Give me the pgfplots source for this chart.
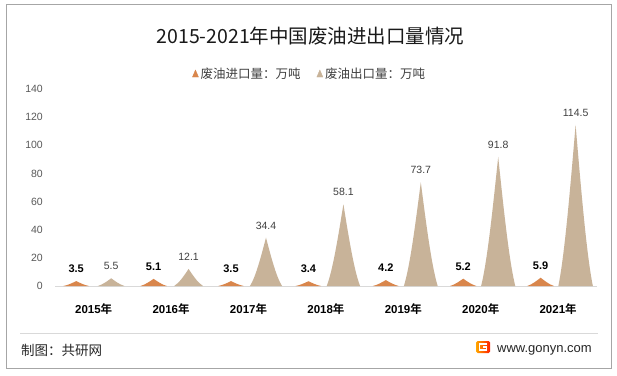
\documentclass[border=0pt]{standalone}
\usepackage{fontspec}
\setmainfont{Liberation Sans}
\newfontfamily\cjk{Noto Sans CJK SC}[BoldFont={Noto Sans CJK SC Bold}]
\usepackage{pgfplots}
\pgfplotsset{compat=1.18}
\definecolor{impcol}{RGB}{217,134,76}
\definecolor{expcol}{RGB}{200,179,153}
\definecolor{tickgray}{RGB}{89,89,89}
\definecolor{labgray}{RGB}{64,64,64}
\definecolor{linecol}{RGB}{217,217,217}
\definecolor{bordercol}{RGB}{166,166,166}
\def\rawy{0}
\pgfdeclareplotmark{spikemark}{%
  \pgfmathsetmacro\hA{\rawy*1.407}%
  \pgfmathsetmacro\hB{0.8*\hA}%
  \pgfmathsetmacro\hC{0.35*\hA}%
  \pgfmathsetmacro\wA{11.5+6.5*\rawy/(\rawy+15)}%
  \pgfmathsetmacro\wB{0.62*\wA}%
  \pgfmathsetmacro\wC{0.28*\wA}%
  \pgfpathmoveto{\pgfpoint{-\wA pt}{-\hA pt}}%
  \pgfpathcurveto{\pgfpoint{-\wB pt}{-\hB pt}}{\pgfpoint{-\wC pt}{-\hC pt}}{\pgfpoint{0pt}{0pt}}%
  \pgfpathcurveto{\pgfpoint{\wC pt}{-\hC pt}}{\pgfpoint{\wB pt}{-\hB pt}}{\pgfpoint{\wA pt}{-\hA pt}}%
  \pgfpathclose
  \pgfusepathqfill
}
\newcommand\nian{{\cjk 年}}
\pgfplotsset{
  spike/.style={
    only marks, mark=spikemark, color=#1, mark options={fill=#1, draw=none},
    visualization depends on={rawy \as \rawy},
    legend image code/.code={\fill[#1] (0pt,-3pt) -- (6pt,-3pt) -- (3pt,4pt) -- cycle;},
    nodes near coords={\pgfmathprintnumber[fixed,precision=1,fixed zerofill]{\pgfplotspointmeta}},
    point meta=y,
  }
}
\begin{document}
\begin{tikzpicture}
\useasboundingbox (0pt,0pt) rectangle (617pt,375pt);
\fill[white] (0pt,0pt) rectangle (617pt,375pt);
\draw[bordercol, line width=1pt] (6.5pt,6.5pt) rectangle (611pt,370pt);
\node[font=\cjk\fontsize{19.5}{22}\selectfont, text=black!90] at (310.5pt,339pt) {2015-2021年中国废油进出口量情况};
\begin{axis}[
  at={(55pt,89pt)}, anchor=south west,
  x=77.4pt, y=1.407pt,
  xmin=-0.5, xmax=6.5, ymin=0, ymax=140,
  clip=false,
  axis x line*=bottom, axis y line*=left,
  x axis line style={-, draw=linecol, line width=0.9pt},
  y axis line style={draw=none},
  major tick length=0pt,
  ytick={0,20,...,140},
  xtick={0,...,6},
  xticklabels={{2015\nian},{2016\nian},{2017\nian},{2018\nian},{2019\nian},{2020\nian},{2021\nian}},
  /pgf/number format/assume math mode=true,
  yticklabel style={font=\fontsize{10.5}{12}\selectfont, text=tickgray, anchor=east, inner sep=0pt, xshift=-12pt},
  xticklabel style={font=\bfseries\fontsize{11.5}{13}\selectfont, text=black, anchor=base, inner sep=0pt, yshift=-27pt},
  legend style={at={(0.47,1.076)}, anchor=center, draw=none, fill=none,
    font=\cjk\fontsize{12.5}{14}\selectfont, text=labgray, legend columns=2,
    /tikz/every even column/.append style={column sep=14pt}},
]
\addplot[spike=impcol,
  every node near coord/.append style={text=black, font=\bfseries\fontsize{11}{12}\selectfont, anchor=center, yshift=12pt}]
  coordinates {(-0.226,3.5) (0.774,5.1) (1.774,3.5) (2.774,3.4) (3.774,4.2) (4.774,5.2) (5.774,5.9)};
\addlegendentry{废油进口量：万吨}
\addplot[spike=expcol,
  every node near coord/.append style={text=labgray, font=\fontsize{10.5}{12}\selectfont, anchor=center, yshift=12pt}]
  coordinates {(0.226,5.5) (1.226,12.1) (2.226,34.4) (3.226,58.1) (4.226,73.7) (5.226,91.8) (6.226,114.5)};
\addlegendentry{废油出口量：万吨}
\end{axis}
\draw[linecol, line width=0.9pt] (20pt,42pt) -- (598pt,42pt);
\node[anchor=west, font=\cjk\fontsize{13.5}{15}\selectfont, text=black!85, inner sep=0pt] at (21pt,25pt) {制图：共研网};
\node[anchor=east, font=\fontsize{13}{15}\selectfont, text=black!85, inner sep=0pt] at (592pt,25pt) {www.gonyn.com};
\shade[left color=orange!70!yellow, right color=red!75!orange, rounded corners=1.5pt] (476pt,22pt) rectangle (490pt,34pt);
\draw[white, line width=1.6pt] (487pt,31pt) -- (479.5pt,31pt) -- (479.5pt,25pt) -- (486.5pt,25pt) -- (486.5pt,28pt) -- (483pt,28pt);
\end{tikzpicture}
\end{document}
